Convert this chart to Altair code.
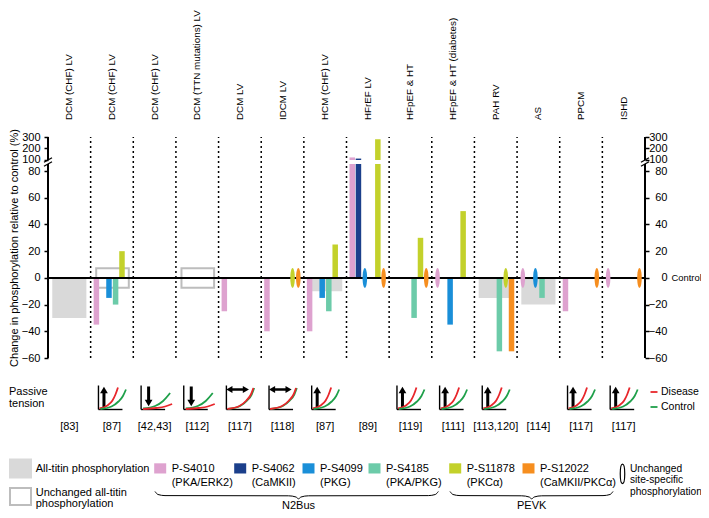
import altair as alt
import pandas as pd

# ---------------- data ----------------
categories = ["DCM (CHF) LV", "DCM (CHF) LV", "DCM (CHF) LV", "DCM (TTN mutations) LV",
              "DCM LV", "IDCM LV", "HCM (CHF) LV", "HFrEF LV", "HFpEF & HT",
              "HFpEF & HT (diabetes)", "PAH RV", "AS", "PPCM", "ISHD"]
refs = ["[83]", "[87]", "[42,43]", "[112]", "[117]", "[118]", "[87]", "[89]",
        "[119]", "[111]", "[113,120]", "[114]", "[117]", "[117]"]
# passive tension change in disease vs control
passive_tension = [None, "up", "down", "down", "same", "same", "up", None,
                   "up", "up", "up", None, "up", "up"]
# all-titin phosphorylation change (%); 0 = unchanged
all_titin = [-30, 0, None, 0, None, None, -10, None, None, None, -15, -20, None, None]

sites = ["P-S4010", "P-S4062", "P-S4099", "P-S4185", "P-S11878", "P-S12022"]
kinases = ["(PKA/ERK2)", "(CaMKII)", "(PKG)", "(PKA/PKG)", "(PKCα)", "(CaMKII/PKCα)"]
# site-specific change (%); 0 = unchanged, None = not measured
s4010 = [None, -35, None, None, -25, -40, -40, 120, None, 0, None, 0, -25, 0]
s4062 = [None, None, None, None, None, None, None, 110, None, None, None, None, None, None]
s4099 = [None, -15, None, None, None, None, -15, 0, None, -35, None, 0, None, None]
s4185 = [None, -20, None, None, None, None, -25, None, -30, None, -55, -15, None, None]
s11878 = [None, 20, None, None, None, 0, 25, 280, 30, 50, 0, None, None, None]
s12022 = [None, None, None, None, None, 0, None, 0, 0, None, -55, None, 0, 0]
site_values = [s4010, s4062, s4099, s4185, s11878, s12022]

# ---------------- styles / layout ----------------
site_colors = ["#dea2cf", "#1b3f8b", "#1a8fd8", "#6ccba9", "#c3d12b", "#f68e1f"]
GRAY = "#d9d9d9"
BOXC = "#bdbdbd"
RED = "#e8262b"
GREEN = "#1fa04a"
FONT = "Liberation Sans"
FS = 11

W, H = 597, 221
X_MAX = len(categories)
Y_MIN, Y_MAX = -60.0, 105.5
PX_LEFT, PY_TOP = 48.0, 137.0
UX = W / X_MAX
UY = H / (Y_MAX - Y_MIN)

def disp(v):
    # broken axis: linear to 80, compressed above 100
    if v <= 80:
        return v
    if v < 100:
        return 80 + (v - 80) * 8.5 / 20
    return 88.5 + (v - 100) * 0.085

def gx(px):
    return (px - PX_LEFT) / UX

def gy(py):
    return Y_MAX - (py - PY_TOP) / UY

BRK_LO, BRK_HI = gy(164.0), gy(160.0)
slot = [0.135, 0.28, 0.43, 0.585, 0.735, 0.87]
HW = 2.75 / UX
ELL_H = 7.3

XS = alt.Scale(domain=[0, X_MAX], nice=False, zero=False)
YS = alt.Scale(domain=[Y_MIN, Y_MAX], nice=False, zero=False)

# ---------------- build tables ----------------
gray_rows, box_rows = [], []
for i, v in enumerate(all_titin):
    if v is None:
        continue
    if v == 0:
        box_rows.append(dict(x0=i + 0.13, x1=i + 0.895, y0=-ELL_H, y1=ELL_H))
    else:
        gray_rows.append(dict(x0=i + 0.1, x1=i + 0.9, y0=0, y1=v))

bar_rows, ell_rows, band_rows = [], [], []
for j, vals in enumerate(site_values):
    for i, v in enumerate(vals):
        if v is None:
            continue
        xc = i + slot[j]
        if v == 0:
            ell_rows.append(dict(x=xc, y=0, col=site_colors[j]))
        else:
            bar_rows.append(dict(x0=xc - HW, x1=xc + HW, y0=0, y1=disp(v), col=site_colors[j]))
            if v > 80:
                band_rows.append(dict(x0=i + 0.04, x1=i + 0.96, y0=BRK_LO, y1=BRK_HI))
band_rows = [dict(t) for t in {tuple(sorted(d.items())) for d in band_rows}]

segs = []
def seg(px0, py0, px1, py1, col="black", w=1.3):
    segs.append(dict(x0=gx(px0), y0=gy(py0), x1=gx(px1), y1=gy(py1), col=col, w=w))

# axis lines with break
for ax in (0.0, X_MAX):
    segs.append(dict(x0=ax, y0=Y_MIN, x1=ax, y1=BRK_LO, col="black", w=2))
    segs.append(dict(x0=ax, y0=BRK_HI, x1=ax, y1=Y_MAX, col="black", w=2))
    apx = PX_LEFT + ax * UX
    for py in (164.0, 160.0):
        seg(apx - 4, py + 2.2, apx + 4, py - 2.2, "black", 1.3)

tri_rows, curve_rows = [], []
curves = {
    "up": [([(1, -1), (9, -4), (14, -9), (17, -15), (19.5, -22)], RED),
           ([(2, -0.5), (13, -3), (20, -8), (24.5, -13.5), (27.5, -20)], GREEN)],
    "down": [([(2, -1), (14, -3.5), (22, -8.5), (29, -16.5)], GREEN),
             ([(2, -0.5), (15, -1.5), (24, -3), (31, -5.5)], RED)],
    "same": [([(1.8, -0.5), (13.8, -3.5), (20.8, -9), (25.3, -15), (27.8, -21.5)], GREEN),
             ([(1, -0.5), (13, -3.5), (20, -9), (24.5, -15), (27, -21.5)], RED)],
}
B = 409.5
cid = 0
for i, p in enumerate(passive_tension):
    if p is None:
        continue
    cx = PX_LEFT + (i + 0.5) * UX
    ox = cx - 13.5
    seg(ox, B - 24, ox, B, "black", 1.4)
    seg(ox, B, cx + 10.5, B, "black", 1.4)
    for pts, col in curves[p]:
        for (ddx, ddy) in pts:
            curve_rows.append(dict(x=gx(ox + ddx), y=gy(B + ddy), id=cid, col=col))
        cid += 1
    if p == "up":
        seg(cx - 8, B - 2, cx - 8, B - 17, "black", 3)
        tri_rows.append(dict(x=gx(cx - 8), y=gy(B - 19.5), shape="triangle-up", size=60))
    elif p == "down":
        seg(cx - 6, B - 23, cx - 6, B - 9, "black", 3)
        tri_rows.append(dict(x=gx(cx - 6), y=gy(B - 6.5), shape="triangle-down", size=60))
    else:
        seg(cx - 9, B - 20, cx + 4.5, B - 20, "black", 2.5)
        tri_rows.append(dict(x=gx(cx - 10.5), y=gy(B - 20), shape="triangle-left", size=50))
        tri_rows.append(dict(x=gx(cx + 6), y=gy(B - 20), shape="triangle-right", size=50))

# passive tension legend lines
seg(650.5, 392, 657.5, 392, RED, 1.8)
seg(650.5, 407, 657.5, 407, GREEN, 1.8)

# legend squares
sq_rows = [dict(x0=gx(9), x1=gx(32), y0=gy(478.5), y1=gy(458.5), col=GRAY, st=GRAY, w=0),
           dict(x0=gx(10), x1=gx(31), y0=gy(505), y1=gy(488), col="white", st=BOXC, w=2)]
site_tx = [171.7, 251.7, 320, 386, 466.7, 540]
for j, tx in enumerate(site_tx):
    sq_rows.append(dict(x0=gx(tx - 17.5), x1=gx(tx - 5.5), y0=gy(473.5), y1=gy(463.3),
                        col=site_colors[j], st=site_colors[j], w=0))

# text tables (text, page x, page y, font size)
left_txt = [("Passive", 9, 392, FS), ("tension", 9, 403.5, FS),
            ("Disease", 661, 392, 10.5), ("Control", 661, 407, 10.5),
            ("All-titin phosphorylation", 35.7, 469, FS),
            ("Unchanged all-titin", 35.7, 492.5, FS), ("phosphorylation", 35.7, 504, FS),
            ("Unchanged", 630, 469, 10.2), ("site-specific", 630, 480.3, 10.2),
            ("phosphorylation", 630, 491.7, 10.2),
            ("Control", 671.5, PY_TOP + (Y_MAX - 0) * UY, 9.4)]
for j, tx in enumerate(site_tx):
    left_txt.append((sites[j], tx, 469, FS))
    left_txt.append((kinases[j], tx, 482.7, FS))
left_df = pd.DataFrame([dict(t=t, x=gx(x), y=gy(y), fs=f) for t, x, y, f in left_txt])

center_rows = [dict(t=r, x=i + 0.5, y=gy(426.7)) for i, r in enumerate(refs)]
center_rows += [dict(t="N2Bus", x=gx(298.5), y=gy(505.5)), dict(t="PEVK", x=gx(531.7), y=gy(505.5))]
center_df = pd.DataFrame(center_rows)

cat_df = pd.DataFrame([dict(t=c, x=i + 0.5, y=gy(120)) for i, c in enumerate(categories)])

brace_rows = []
for bid, (x0, x1, xc) in enumerate([(155, 438.3, 298.5), (450, 613, 531.7)]):
    pts = [(x0, 491.5), (x0 + 3, 494.5), (x0 + 10, 495.6), (xc - 10, 495.8), (xc - 2.5, 497),
           (xc, 498.8), (xc + 2.5, 497), (xc + 10, 495.8), (x1 - 10, 495.6), (x1 - 3, 494.5), (x1, 491.5)]
    for (px, py) in pts:
        brace_rows.append(dict(x=gx(px), y=gy(py), id=bid))

ELLIPSE = "M0,-1A0.23,1 0 1,1 0,1A0.23,1 0 1,1 0,-1Z"

# ---------------- layers ----------------
def X(f="x0"):
    return alt.X(f + ":Q", scale=XS, axis=None)

def Y(f="y0", axis=None):
    return alt.Y(f + ":Q", scale=YS, axis=axis)

TICKS = [-60, -40, -20, 0, 20, 40, 60, 80, disp(100), disp(200), disp(300)]
LBL = ("datum.value > 85 ? format(100 + (datum.value - 88.5) / 0.085, '.0f') : "
       "(datum.value < 0 ? '\u2212' + format(-datum.value, '.0f') : format(datum.value, '.0f'))")
axis_common = dict(values=TICKS, labelExpr=LBL, domain=False, grid=False, tickSize=4,
                   tickWidth=1.5, tickColor="black", labelFont=FONT, labelFontSize=FS,
                   labelColor="black", labelOverlap=False, labelBound=False, zindex=0)
left_axis = alt.Axis(orient="left", labelPadding=4,
                     title="Change in phosphorylation relative to control (%)",
                     titleFont=FONT, titleFontSize=FS, titleFontWeight="normal",
                     titleColor="black", titleX=-34, titleY=H / 2, titleAngle=270,
                     titleAlign="center", titleBaseline="middle", **axis_common)
right_axis = alt.Axis(orient="right", labelAlign="right", labelPadding=18, title=None,
                      **axis_common)

gray_layer = alt.Chart(pd.DataFrame(gray_rows)).mark_rect(fill=GRAY, clip=False).encode(
    x=X("x0"), x2="x1:Q", y=Y("y0"), y2="y1:Q")
box_layer = alt.Chart(pd.DataFrame(box_rows)).mark_rect(
    fillOpacity=0, stroke=BOXC, strokeWidth=2, clip=False).encode(
    x=X("x0"), x2="x1:Q", y=Y("y0"), y2="y1:Q")
bar_layer = alt.Chart(pd.DataFrame(bar_rows)).mark_rect(clip=False).encode(
    x=X("x0"), x2="x1:Q", y=Y("y0"), y2="y1:Q", fill=alt.Fill("col:N", scale=None))
band_layer = alt.Chart(pd.DataFrame(band_rows)).mark_rect(fill="white", clip=False).encode(
    x=X("x0"), x2="x1:Q", y=Y("y0"), y2="y1:Q")
zero_layer = alt.Chart(pd.DataFrame([dict(x0=0, x1=X_MAX, y0=0)])).mark_rule(
    color="black", strokeWidth=2, clip=False).encode(
    x=X("x0"), x2="x1:Q", y=Y("y0", left_axis))
dot_layer = alt.Chart(pd.DataFrame([dict(x0=b, y0=Y_MIN, y1=Y_MAX) for b in range(1, X_MAX)])).mark_rule(
    color="black", strokeWidth=1.5, strokeDash=[2, 3], clip=False).encode(
    x=X("x0"), y=Y("y0", right_axis), y2="y1:Q")
ell_layer = alt.Chart(pd.DataFrame(ell_rows)).mark_point(
    shape=ELLIPSE, size=390, filled=True, opacity=1, strokeWidth=0, clip=False).encode(
    x=X("x"), y=Y("y"), fill=alt.Fill("col:N", scale=None))
seg_layer = alt.Chart(pd.DataFrame(segs)).mark_rule(clip=False).encode(
    x=X("x0"), x2="x1:Q", y=Y("y0"), y2="y1:Q",
    color=alt.Color("col:N", scale=None), strokeWidth=alt.StrokeWidth("w:Q", scale=None))
tri_layer = alt.Chart(pd.DataFrame(tri_rows)).mark_point(
    filled=True, color="black", opacity=1, clip=False).encode(
    x=X("x"), y=Y("y"), shape=alt.Shape("shape:N", scale=None), size=alt.Size("size:Q", scale=None))
curve_layer = alt.Chart(pd.DataFrame(curve_rows)).mark_line(
    interpolate="monotone", strokeWidth=1.8, clip=False).encode(
    x=X("x"), y=Y("y"), detail="id:N", color=alt.Color("col:N", scale=None))
sq_layer = alt.Chart(pd.DataFrame(sq_rows)).mark_rect(clip=False).encode(
    x=X("x0"), x2="x1:Q", y=Y("y0"), y2="y1:Q", fill=alt.Fill("col:N", scale=None),
    stroke=alt.Stroke("st:N", scale=None), strokeWidth=alt.StrokeWidth("w:Q", scale=None))
leg_ell = alt.Chart(pd.DataFrame([dict(x=gx(622.5), y=gy(473.8))])).mark_point(
    shape=ELLIPSE, size=380, filled=True, fill="white", stroke="black", strokeWidth=1.2,
    opacity=1, clip=False).encode(x=X("x"), y=Y("y"))
brace_layer = alt.Chart(pd.DataFrame(brace_rows)).mark_line(
    interpolate="monotone", color="black", strokeWidth=1, clip=False).encode(
    x=X("x"), y=Y("y"), detail="id:N")
left_text = alt.Chart(left_df).mark_text(
    align="left", baseline="middle", font=FONT, color="black", clip=False).encode(
    x=X("x"), y=Y("y"), text="t:N", size=alt.Size("fs:Q", scale=None))
center_text = alt.Chart(center_df).mark_text(
    align="center", baseline="middle", font=FONT, fontSize=FS, color="black", clip=False).encode(
    x=X("x"), y=Y("y"), text="t:N")
cat_text = alt.Chart(cat_df).mark_text(
    align="left", baseline="middle", angle=270, font=FONT, fontSize=9.8, color="black",
    clip=False).encode(x=X("x"), y=Y("y"), text="t:N")

chart = alt.layer(
    gray_layer, box_layer, bar_layer, band_layer, zero_layer, dot_layer, ell_layer,
    seg_layer, tri_layer, curve_layer, sq_layer, leg_ell, brace_layer,
    left_text, center_text, cat_text
).resolve_axis(y="independent").properties(
    width=W, height=H,
    autosize=alt.AutoSizeParams(type="none"),
    padding={"left": 40, "top": 129, "right": 56, "bottom": 152},
).configure_view(stroke=None)

chart.save("out.html", embed_options={"renderer": "svg", "actions": False})
